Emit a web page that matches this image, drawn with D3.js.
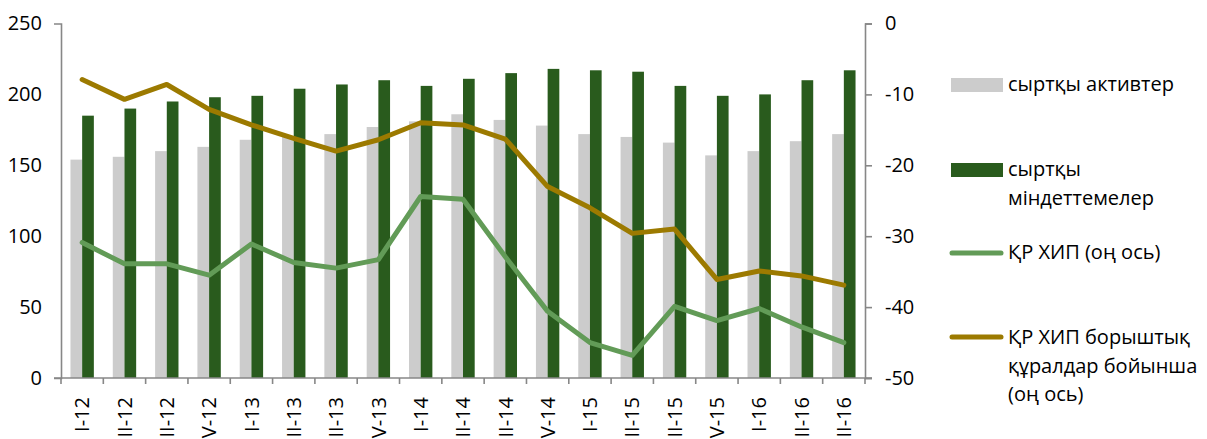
<!DOCTYPE html>
<html><head><meta charset="utf-8">
<script src="https://cdn.jsdelivr.net/npm/d3@7/dist/d3.min.js"></script>
<style>
html,body{margin:0;padding:0;background:#fff;overflow:hidden;}
text{font-family:"Open Sans",sans-serif;fill:#000;}
</style></head>
<body><svg id="c" width="1207" height="439"></svg>
<script>
const categories = ["I-12","II-12","III-12","IV-12","I-13","II-13","III-13","IV-13","I-14","II-14","III-14","IV-14","I-15","II-15","III-15","IV-15","I-16","II-16","III-16"];
const assets = [154,156,160,163,168,170,172,177,181,186,182,178,172,170,166,157,160,167,172];
const liabilities = [185,190,195,198,199,204,207,210,206,211,215,218,217,216,206,199,200,210,217];
const iipNet = [-30.9,-33.9,-33.9,-35.5,-31.1,-33.7,-34.5,-33.3,-24.4,-24.8,-32.9,-40.6,-45.0,-46.8,-39.9,-41.9,-40.2,-42.8,-45.0];
const iipDebt = [-7.9,-10.7,-8.6,-12.1,-14.3,-16.2,-18.0,-16.4,-14.0,-14.3,-16.3,-23.0,-26.0,-29.6,-29.0,-36.1,-34.9,-35.6,-36.9];
const leftTicks = [0,50,100,150,200,250];
const rightTicks = [0,-10,-20,-30,-40,-50];
const seriesNames = ["сыртқы активтер", ["сыртқы","міндеттемелер"], "ҚР ХИП (оң ось)", ["ҚР ХИП борыштық","құралдар бойынша","(оң ось)"]];

const colors = {assets:"#cccccc", liab:"#295b1d", net:"#629b57", debt:"#9c7a00", axis:"#878787"};
const FS = "20px";
const svg = d3.select("#c");
const L = 61, R = 865, T = 23.5, B = 378;

const x = d3.scaleBand().domain(categories).range([L, R]).paddingInner(0).paddingOuter(0);
const sub = d3.scaleBand().domain(["a","l"]).range([0, x.bandwidth()]).paddingInner(0).paddingOuter(0.81);
const yL = d3.scaleLinear().domain([0,250]).range([B,T]);
const yR = d3.scaleLinear().domain([-50,0]).range([B,T]);

// bars
const g = svg.append("g");
g.selectAll("rect.a").data(categories).join("rect")
  .attr("x", d => x(d) + sub("a")).attr("width", sub.bandwidth())
  .attr("y", (d,i) => yL(assets[i])).attr("height", (d,i) => yL(0) - yL(assets[i]))
  .attr("fill", colors.assets);
g.selectAll("rect.l").data(categories).join("rect")
  .attr("x", d => x(d) + sub("l")).attr("width", sub.bandwidth())
  .attr("y", (d,i) => yL(liabilities[i])).attr("height", (d,i) => yL(0) - yL(liabilities[i]))
  .attr("fill", colors.liab);

// lines
const cx = d => x(d) + x.bandwidth()/2;
const line = d3.line().x((d,i) => cx(categories[i])).y(d => yR(d));
svg.append("path").attr("d", line(iipNet)).attr("fill","none").attr("stroke",colors.net)
  .attr("stroke-width",5).attr("stroke-linejoin","round").attr("stroke-linecap","round");
svg.append("path").attr("d", line(iipDebt)).attr("fill","none").attr("stroke",colors.debt)
  .attr("stroke-width",5).attr("stroke-linejoin","round").attr("stroke-linecap","round");

// left axis
const ax = svg.append("g").attr("transform",`translate(${L},0)`)
  .call(d3.axisLeft(yL).tickValues(leftTicks).tickSizeInner(0).tickSizeOuter(7).tickPadding(19));
// right axis
const ar = svg.append("g").attr("transform",`translate(${R},0)`)
  .call(d3.axisRight(yR).tickValues(rightTicks).tickSize(7).tickPadding(13).tickFormat(d => d3.format("d")(d).replace("−","-")));
// x axis
const axx = svg.append("g").attr("transform",`translate(0,${B})`)
  .call(d3.axisBottom(x).tickSize(0).tickFormat(""));
[ax, ar, axx].forEach(a => {
  a.selectAll("path,line").attr("stroke", colors.axis).attr("stroke-width", 1.6);
  a.selectAll("text").style("font-size",FS).style("font-family","'Open Sans',sans-serif").attr("fill","#000");
});
axx.select("path.domain").remove();
svg.append("line").attr("x1", L-7).attr("x2", R+7).attr("y1", B).attr("y2", B)
  .attr("stroke", colors.axis).attr("stroke-width", 1.6);
// category boundary ticks
const bounds = categories.map(d => x(d)).concat([R]);
svg.selectAll("line.xt").data(bounds).join("line")
  .attr("x1", d => d).attr("x2", d => d).attr("y1", B).attr("y2", B+6)
  .attr("stroke", colors.axis).attr("stroke-width", 1.6);
// x labels
svg.selectAll("text.xl").data(categories).join("text")
  .attr("transform", d => `translate(${cx(d)},397) rotate(-90)`)
  .attr("text-anchor","end").attr("dy","0.36em")
  .style("font-size",FS).text(d => d);

// legend
const lg = svg.append("g");
lg.append("rect").attr("x",951).attr("y",78).attr("width",52).attr("height",14).attr("fill",colors.assets);
lg.append("rect").attr("x",951).attr("y",163).attr("width",52).attr("height",14).attr("fill",colors.liab);
lg.append("line").attr("x1",952).attr("x2",1001).attr("y1",253).attr("y2",253).attr("stroke",colors.net).attr("stroke-width",5).attr("stroke-linecap","round");
lg.append("line").attr("x1",952).attr("x2",1001).attr("y1",337).attr("y2",337).attr("stroke",colors.debt).attr("stroke-width",5).attr("stroke-linecap","round");
const legendY = [84, 169, 252, 337];
seriesNames.forEach((n,i) => {
  const lines = Array.isArray(n) ? n : [n];
  lines.forEach((t,j) => {
    lg.append("text").attr("x",1008).attr("y", legendY[i] + j*28.5).attr("dy","0.35em")
      .style("font-size",FS).text(t);
  });
});
</script></body></html>
